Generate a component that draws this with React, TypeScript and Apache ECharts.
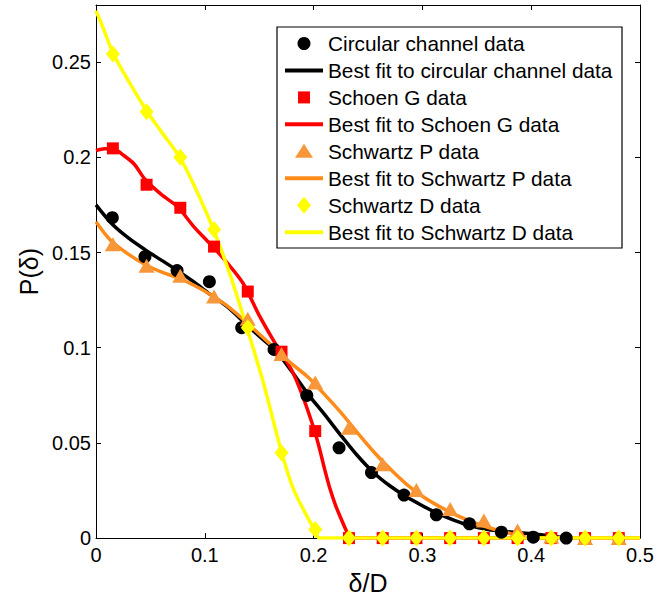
import React, { useEffect, useRef } from "react";
import * as echarts from "echarts";

// ---------- data ----------
const circX = [0.015, 0.045, 0.0745, 0.1042, 0.1339, 0.1636, 0.1938, 0.2234, 0.2532, 0.2831, 0.3128, 0.3432, 0.3726, 0.4019, 0.4322];
const circY = [0.1683, 0.1478, 0.1405, 0.1347, 0.1105, 0.0991, 0.0749, 0.0474, 0.0344, 0.0226, 0.0122, 0.0075, 0.0031, 0.0005, 0];

const binX = [0.0155, 0.0465, 0.0775, 0.1085, 0.1395, 0.1705, 0.2015, 0.2325, 0.2635, 0.2945, 0.3255, 0.3565, 0.3875, 0.4185, 0.4495, 0.4805];
const schoenY = [0.2047, 0.1856, 0.1735, 0.1531, 0.1295, 0.0979, 0.0562, 0, 0, 0, 0, 0, 0, 0, 0, 0];
const schwPY = [0.1543, 0.1431, 0.1378, 0.1269, 0.1152, 0.0967, 0.0817, 0.0579, 0.0388, 0.0252, 0.0153, 0.0092, 0.004, 0.0009, 0, 0];
const schwDY = [0.2543, 0.2239, 0.2, 0.1621, 0.1105, 0.0448, 0.0045, 0, 0, 0, 0, 0, 0, 0, 0, 0];

const circFitX = [0, 0.015, 0.03, 0.045, 0.06, 0.075, 0.09, 0.105, 0.12, 0.135, 0.15, 0.165, 0.18, 0.195, 0.21, 0.225, 0.24, 0.255, 0.27, 0.285, 0.3, 0.315, 0.33, 0.345, 0.36, 0.375, 0.39, 0.405, 0.42, 0.432];
const circFitY = [0.175, 0.1648, 0.1575, 0.1515, 0.146, 0.1405, 0.1345, 0.128, 0.1218, 0.114, 0.106, 0.0985, 0.0875, 0.0755, 0.065, 0.054, 0.0435, 0.0345, 0.0275, 0.0218, 0.017, 0.0127, 0.0092, 0.0063, 0.0045, 0.0035, 0.0028, 0.002, 0.001, 0];

const schoenFitX = [0, 0.008, 0.016, 0.025, 0.035, 0.045, 0.06, 0.075, 0.09, 0.105, 0.12, 0.135, 0.15, 0.165, 0.18, 0.19, 0.2, 0.205, 0.21, 0.215, 0.22, 0.225, 0.23, 0.234, 0.5];
const schoenFitY = [0.2035, 0.2045, 0.2045, 0.2012, 0.1965, 0.1885, 0.1805, 0.174, 0.1635, 0.1545, 0.145, 0.134, 0.117, 0.102, 0.088, 0.0745, 0.058, 0.048, 0.0365, 0.026, 0.0175, 0.0105, 0.004, 0, 0];

const schwPFitX = [0, 0.008, 0.015, 0.03, 0.045, 0.06, 0.075, 0.09, 0.105, 0.12, 0.135, 0.15, 0.165, 0.18, 0.195, 0.21, 0.225, 0.24, 0.255, 0.27, 0.285, 0.3, 0.315, 0.33, 0.345, 0.36, 0.375, 0.39, 0.4, 0.5];
const schwPFitY = [0.1662, 0.16, 0.1555, 0.149, 0.1437, 0.1398, 0.1368, 0.1328, 0.128, 0.1222, 0.115, 0.1072, 0.0993, 0.0915, 0.0845, 0.0755, 0.066, 0.0555, 0.0455, 0.0365, 0.0285, 0.022, 0.0168, 0.0123, 0.0087, 0.0057, 0.0032, 0.0012, 0, 0];

const schwDFitX = [0, 0.007, 0.016, 0.03, 0.047, 0.06, 0.077, 0.09, 0.108, 0.123, 0.1385, 0.154, 0.1707, 0.1814, 0.1936, 0.2013, 0.2055, 0.5];
const schwDFitY = [0.277, 0.2673, 0.2543, 0.240, 0.2239, 0.2135, 0.2, 0.1855, 0.1621, 0.1387, 0.1109, 0.0813, 0.0448, 0.0258, 0.0118, 0.004, 0, 0];

const legendLabels = [
  "Circular channel data",
  "Best fit to circular channel data",
  "Schoen G data",
  "Best fit to Schoen G data",
  "Schwartz P data",
  "Best fit to Schwartz P data",
  "Schwartz D data",
  "Best fit to Schwartz D data",
];

const FONT = '"Liberation Sans", Arial, Helvetica, sans-serif';
const BLACK = "#000000";
const RED = "#ff0000";
const ORANGE_LINE = "#ff8c1a";
const ORANGE_MARK = "#f8973a";
const YELLOW = "#ffff00";

const pairs = (xs: number[], ys: number[]) => xs.map((x, i) => [x, ys[i]]);

export default function App() {
  const ref = useRef<HTMLDivElement>(null);
  useEffect(() => {
    if (!ref.current) return;
    const chart = echarts.init(ref.current, null, { renderer: "svg" });

    const gridLeft = 96, gridTop = 5, gridRight = 29, gridBottom = 57;

    const axisLineStyle = { color: "#000", width: 1 };
    const xBase = {
      type: "value" as const,
      min: 0,
      max: 0.5,
      interval: 0.1,
      splitLine: { show: false },
      axisLine: { show: true, onZero: false, lineStyle: axisLineStyle },
      axisTick: { show: true, inside: true, length: 5, lineStyle: { color: "#000" } },
    };
    const yBase = {
      type: "value" as const,
      min: 0,
      max: 0.28,
      interval: 0.05,
      splitLine: { show: false },
      axisLine: { show: true, onZero: false, lineStyle: axisLineStyle },
      axisTick: { show: true, inside: true, length: 5, lineStyle: { color: "#000" } },
    };

    // legend graphic
    const lgX = 277, lgY = 27, lgW = 345, lgH = 221;
    const rowY0 = 43.5, rowH = 26.95;
    const mx = 304;
    const legendEls: any[] = [
      {
        type: "rect",
        z: 100,
        shape: { x: lgX, y: lgY, width: lgW, height: lgH },
        style: { fill: "#fff", stroke: "#000", lineWidth: 1.2 },
      },
    ];
    legendLabels.forEach((label, k) => {
      const cy = rowY0 + rowH * k;
      let icon: any;
      if (k % 2 === 1) {
        const col = [BLACK, RED, ORANGE_LINE, YELLOW][(k - 1) / 2];
        icon = { type: "line", z: 101, shape: { x1: 285, y1: cy, x2: 323, y2: cy }, style: { stroke: col, lineWidth: 4 } };
      } else if (k === 0) {
        icon = { type: "circle", z: 101, shape: { cx: mx, cy, r: 6.5 }, style: { fill: BLACK } };
      } else if (k === 2) {
        icon = { type: "rect", z: 101, shape: { x: mx - 6, y: cy - 6, width: 12, height: 12 }, style: { fill: RED } };
      } else if (k === 4) {
        icon = {
          type: "polygon",
          z: 101,
          shape: { points: [[mx, cy - 7.5], [mx + 9, cy + 6.5], [mx - 9, cy + 6.5]] },
          style: { fill: ORANGE_MARK },
        };
      } else {
        icon = {
          type: "polygon",
          z: 101,
          shape: { points: [[mx, cy - 8.5], [mx + 7, cy], [mx, cy + 8.5], [mx - 7, cy]] },
          style: { fill: YELLOW },
        };
      }
      legendEls.push(icon);
      legendEls.push({
        type: "text",
        z: 101,
        x: 328,
        y: cy,
        style: { text: label, fill: "#000", font: `20.8px ${FONT}`, textVerticalAlign: "middle", textAlign: "left" },
      });
    });

    const lineSeries = (name: string, xs: number[], ys: number[], color: string) => ({
      name,
      type: "line" as const,
      data: pairs(xs, ys),
      showSymbol: false,
      symbol: "none",
      smooth: 0.3,
      lineStyle: { color, width: 3.5 },
      itemStyle: { color },
      xAxisIndex: 0,
      yAxisIndex: 0,
      z: 2,
    });
    const scatterSeries = (name: string, xs: number[], ys: number[], color: string, symbol: string, size: any) => ({
      name,
      type: "scatter" as const,
      data: pairs(xs, ys),
      symbol,
      symbolSize: size,
      itemStyle: { color, opacity: 1 },
      xAxisIndex: 0,
      yAxisIndex: 0,
      z: 2,
    });

    chart.setOption({
      animation: false,
      backgroundColor: "#fff",
      textStyle: { fontFamily: FONT },
      grid: { left: gridLeft, top: gridTop, right: gridRight, bottom: gridBottom, containLabel: false },
      xAxis: [
        {
          ...xBase,
          position: "bottom",
          axisLabel: { show: true, fontSize: 20, color: "#000", margin: 7, fontFamily: FONT },
          name: "δ/D",
          nameLocation: "middle",
          nameGap: 29,
          nameTextStyle: { fontSize: 25, color: "#000", fontFamily: FONT },
        },
        { ...xBase, position: "top", axisLabel: { show: false } },
      ],
      yAxis: [
        {
          ...yBase,
          position: "left",
          axisLabel: { show: true, fontSize: 20, color: "#000", margin: 5, fontFamily: FONT, showMaxLabel: false },
          name: "P(δ)",
          nameLocation: "middle",
          nameGap: 54,
          nameTextStyle: { fontSize: 25, color: "#000", fontFamily: FONT },
        },
        { ...yBase, position: "right", axisLabel: { show: false } },
      ],
      series: [
        scatterSeries(legendLabels[0], circX, circY, BLACK, "circle", 13),
        lineSeries(legendLabels[1], circFitX, circFitY, BLACK),
        scatterSeries(legendLabels[2], binX, schoenY, RED, "rect", 12),
        lineSeries(legendLabels[3], schoenFitX, schoenFitY, RED),
        scatterSeries(legendLabels[4], binX, schwPY, ORANGE_MARK, "triangle", [16, 14]),
        lineSeries(legendLabels[5], schwPFitX, schwPFitY, ORANGE_LINE),
        scatterSeries(legendLabels[6], binX, schwDY, YELLOW, "diamond", [14, 17]),
        lineSeries(legendLabels[7], schwDFitX, schwDFitY, YELLOW),
      ],
      graphic: legendEls,
    });

    return () => chart.dispose();
  }, []);

  return (
    <div
      ref={ref}
      style={{ position: "absolute", left: 0, top: 0, width: 669, height: 600, background: "#fff" }}
    />
  );
}
